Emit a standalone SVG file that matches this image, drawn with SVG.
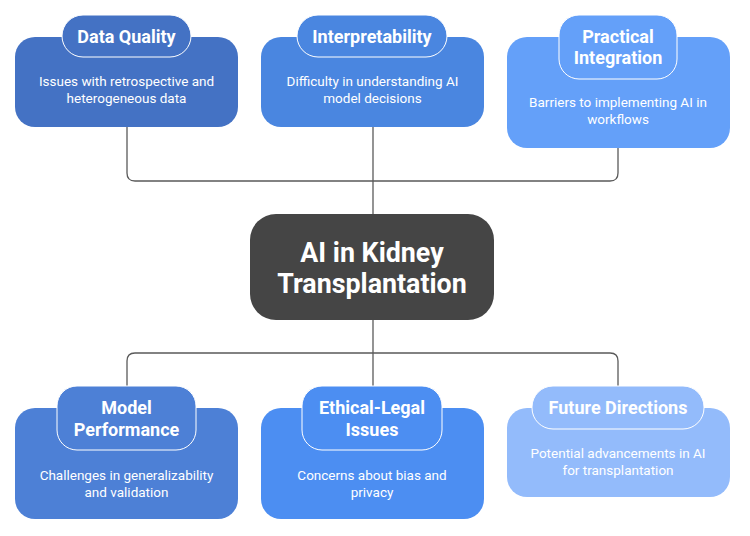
<svg xmlns="http://www.w3.org/2000/svg" width="750" height="536" viewBox="0 0 750 536">
<style>
.conn{fill:none;stroke:#5a5a5a;stroke-width:1.3}
.hd{stroke:#ffffff;stroke-width:1}
.t{font-family:Roboto,"Liberation Sans",sans-serif;font-weight:bold;font-size:18px;fill:#fff;text-anchor:middle}
.b{font-family:Roboto,"Liberation Sans",sans-serif;font-size:13.5px;fill:#fff;text-anchor:middle}
.c{font-family:Roboto,"Liberation Sans",sans-serif;font-weight:bold;font-size:26.8px;fill:#fff;text-anchor:middle}
</style>
<rect width="750" height="536" fill="#fff"/>
<g id="connectors">
<path class="conn" d="M127 127 V173 Q127 181 135 181 H610 Q618 181 618 173 V148"/>
<path class="conn" d="M373 127 V214"/>
<path class="conn" d="M373 320 V386"/>
<path class="conn" d="M127 386 V361 Q127 353 135 353 H610 Q618 353 618 361 V386"/>
</g>
<g id="data-quality">
<rect x="15" y="37" width="223" height="90" rx="20" fill="#4472C4"/>
<rect class="hd" x="62" y="15" width="129" height="42" rx="21" fill="#4472C4"/>
<text class="t" x="126.5" y="42.5">Data Quality</text>
<text class="b" x="126.5" y="86">Issues with retrospective and</text>
<text class="b" x="126.5" y="103">heterogeneous data</text>
</g>
<g id="interpretability">
<rect x="261" y="37" width="223" height="90" rx="20" fill="#4A86E0"/>
<rect class="hd" x="297" y="15" width="150" height="42" rx="21" fill="#4A86E0"/>
<text class="t" x="372" y="42.5">Interpretability</text>
<text class="b" x="372.5" y="86">Difficulty in understanding AI</text>
<text class="b" x="372.5" y="103">model decisions</text>
</g>
<g id="practical-integration">
<rect x="507" y="37" width="223" height="111" rx="20" fill="#64A0F9"/>
<rect class="hd" x="559" y="15" width="118" height="64" rx="20" fill="#64A0F9"/>
<text class="t" x="618" y="42.5">Practical</text>
<text class="t" x="618" y="64">Integration</text>
<text class="b" x="618" y="107">Barriers to implementing AI in</text>
<text class="b" x="618" y="124">workflows</text>
</g>
<g id="center">
<rect x="250" y="214" width="244" height="106" rx="26" fill="#454545"/>
<text class="c" x="372" y="262">AI in Kidney</text>
<text class="c" x="372" y="293">Transplantation</text>
</g>
<g id="model-performance">
<rect x="15" y="408" width="223" height="111" rx="20" fill="#4D80D6"/>
<rect class="hd" x="57" y="386" width="139" height="64" rx="20" fill="#4D80D6"/>
<text class="t" x="126.5" y="414">Model</text>
<text class="t" x="126.5" y="436">Performance</text>
<text class="b" x="126.5" y="480">Challenges in generalizability</text>
<text class="b" x="126.5" y="497">and validation</text>
</g>
<g id="ethical-legal">
<rect x="261" y="408" width="223" height="111" rx="20" fill="#4C8EF2"/>
<rect class="hd" x="302" y="386" width="140" height="64" rx="20" fill="#4C8EF2"/>
<text class="t" x="372" y="414">Ethical-Legal</text>
<text class="t" x="372" y="436">Issues</text>
<text class="b" x="372" y="480">Concerns about bias and</text>
<text class="b" x="372" y="497">privacy</text>
</g>
<g id="future-directions">
<rect x="507" y="408" width="223" height="89" rx="20" fill="#93BBFB"/>
<rect class="hd" x="532" y="386" width="172" height="43" rx="21" fill="#93BBFB"/>
<text class="t" x="618" y="414">Future Directions</text>
<text class="b" x="618" y="458">Potential advancements in AI</text>
<text class="b" x="618" y="475">for transplantation</text>
</g>
</svg>
